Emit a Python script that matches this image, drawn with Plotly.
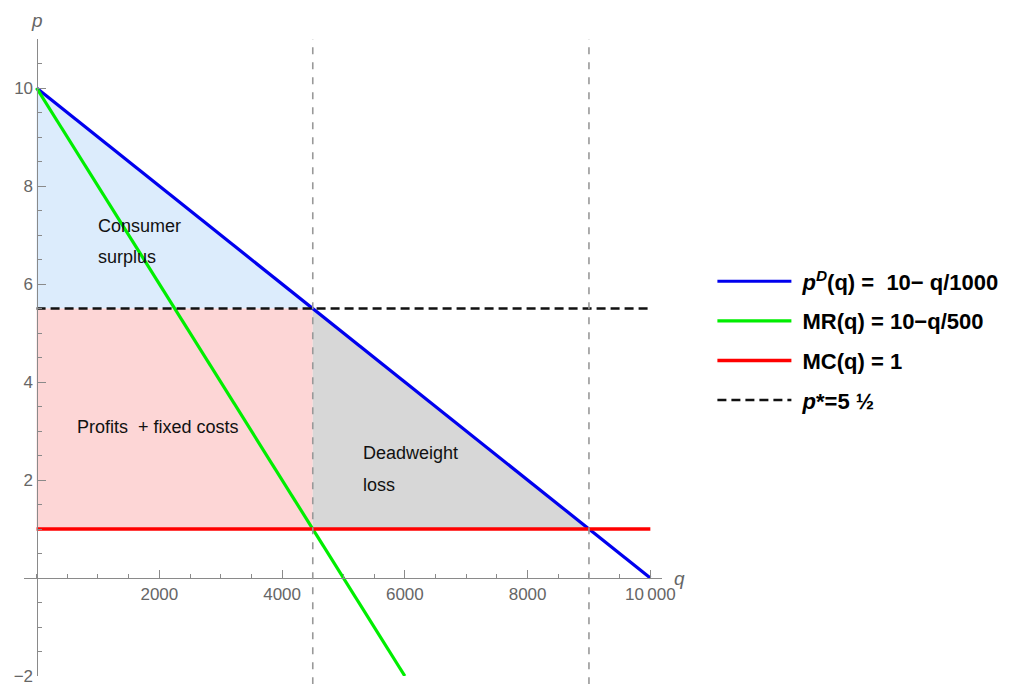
import plotly.graph_objects as go

# ---- data ----
demand_q = [0, 10000]
demand_p = [10, 0]
mr_q = [0, 6000]
mr_p = [10, -2]
mc_q = [0, 10000]
mc_p = [1, 1]
pstar_q = [0, 10000]
pstar_p = [5.5, 5.5]
q_monopoly = 4500
q_competitive = 9000
p_star = 5.5
p_max = 10
mc_level = 1

x_ticks = [2000, 4000, 6000, 8000, 10000]
x_ticktext = ["2000", "4000", "6000", "8000", "10\u2009000"]
y_ticks = [-2, 2, 4, 6, 8, 10]
y_ticktext = ["\u22122", "2", "4", "6", "8", "10"]

x_range = [-205, 10190]
y_range = [-2, 11]

FONT = "Liberation Sans, Arial, sans-serif"
AXIS_GRAY = "#8a8a8a"
TICK_GRAY = "#666666"

fig = go.Figure()

# ---- filled regions ----
fig.add_trace(go.Scatter(
    x=[0, q_monopoly, 0, 0], y=[p_max, p_star, p_star, p_max],
    fill="toself", fillcolor="#dcecfc", line=dict(width=0),
    mode="lines", showlegend=False, hoverinfo="skip"))
fig.add_trace(go.Scatter(
    x=[0, q_monopoly, q_monopoly, 0, 0], y=[p_star, p_star, mc_level, mc_level, p_star],
    fill="toself", fillcolor="#fdd6d6", line=dict(width=0),
    mode="lines", showlegend=False, hoverinfo="skip"))
fig.add_trace(go.Scatter(
    x=[q_monopoly, q_monopoly, q_competitive, q_monopoly],
    y=[mc_level, p_star, mc_level, mc_level],
    fill="toself", fillcolor="#d7d7d7", line=dict(width=0),
    mode="lines", showlegend=False, hoverinfo="skip"))

# ---- curves ----
NB = "\u00a0"
fig.add_trace(go.Scatter(
    x=demand_q, y=demand_p, mode="lines",
    line=dict(color="#0000ee", width=3.2),
    name=NB + "<b><i>p</i><sup><i>D</i></sup>(q) =  10\u2212 q/1000</b>",
    legendgroup="a"))
fig.add_trace(go.Scatter(
    x=mr_q, y=mr_p, mode="lines",
    line=dict(color="#00ee00", width=3.2),
    name=NB + "<b>MR(q) = 10\u2212q/500</b>", legendgroup="b"))
fig.add_trace(go.Scatter(
    x=mc_q, y=mc_p, mode="lines",
    line=dict(color="#ff0000", width=3.6),
    name=NB + "<b>MC(q) = 1</b>", legendgroup="c"))
fig.add_trace(go.Scatter(
    x=pstar_q, y=pstar_p, mode="lines",
    line=dict(color="#111111", width=2.6, dash="9px,5px"),
    name=NB + "<b><i>p</i>*=5 \u00bd</b>", legendgroup="d"))

# ---- vertical dashed guides ----
for qv in [q_monopoly, q_competitive]:
    fig.add_shape(type="line", xref="x", yref="paper",
                  x0=qv, x1=qv, y0=-0.013, y1=1,
                  line=dict(color="#999999", width=1.6, dash="7px,8px"),
                  layer="above")

# ---- region labels ----
lbl = dict(showarrow=False, xanchor="left", yanchor="middle",
           font=dict(family=FONT, size=18, color="#111111"))
fig.add_annotation(x=960, y=7.18, text="Consumer", **lbl)
fig.add_annotation(x=960, y=6.55, text="surplus", **lbl)
fig.add_annotation(x=620, y=3.08, text="Profits  + fixed costs", **lbl)
fig.add_annotation(x=5290, y=2.55, text="Deadweight", **lbl)
fig.add_annotation(x=5290, y=1.90, text="loss", **lbl)

# ---- axis labels ----
fig.add_annotation(x=0, y=1, xref="x", yref="paper", text="<i>p</i>",
                   showarrow=False, xanchor="center", yanchor="bottom", yshift=6,
                   font=dict(family=FONT, size=19, color=TICK_GRAY))
fig.add_annotation(x=1, y=0, xref="paper", yref="y", text="<i>q</i>",
                   showarrow=False, xanchor="left", yanchor="middle", xshift=10,
                   font=dict(family=FONT, size=19, color=TICK_GRAY))

# page body adds an 8px offset, so margins are reduced accordingly
fig.update_layout(
    width=1029, height=684,
    margin=dict(l=16, r=375, t=31, b=16, autoexpand=False),
    paper_bgcolor="white", plot_bgcolor="white",
    font=dict(family=FONT),
    showlegend=True,
    legend=dict(x=1.079, y=0.526, xanchor="left", yanchor="middle",
                font=dict(family=FONT, size=22, color="#000000"),
                traceorder="grouped", tracegroupgap=8,
                itemwidth=74, bgcolor="rgba(0,0,0,0)"),
    xaxis=dict(range=x_range, anchor="free", position=2/13, automargin=False,
               showgrid=False, zeroline=False,
               showline=True, linecolor=AXIS_GRAY, linewidth=1.2,
               tickmode="array", tickvals=x_ticks, ticktext=x_ticktext,
               ticks="inside", ticklen=8, tickcolor=AXIS_GRAY, tickwidth=1.2,
               tickfont=dict(family=FONT, size=17, color=TICK_GRAY),
               minor=dict(tickmode="linear", tick0=0, dtick=500, ticks="inside",
                          ticklen=4, tickcolor=AXIS_GRAY, tickwidth=1),
               fixedrange=True),
    yaxis=dict(range=y_range, anchor="free", position=205/10395, automargin=False,
               showgrid=False, zeroline=False,
               showline=True, linecolor=AXIS_GRAY, linewidth=1.2,
               tickmode="array", tickvals=y_ticks, ticktext=y_ticktext,
               ticks="inside", ticklen=8, tickcolor=AXIS_GRAY, tickwidth=1.2,
               tickfont=dict(family=FONT, size=17, color=TICK_GRAY),
               minor=dict(tickmode="linear", tick0=0, dtick=0.5, ticks="inside",
                          ticklen=4, tickcolor=AXIS_GRAY, tickwidth=1),
               fixedrange=True),
)

fig.write_html("out.html")
